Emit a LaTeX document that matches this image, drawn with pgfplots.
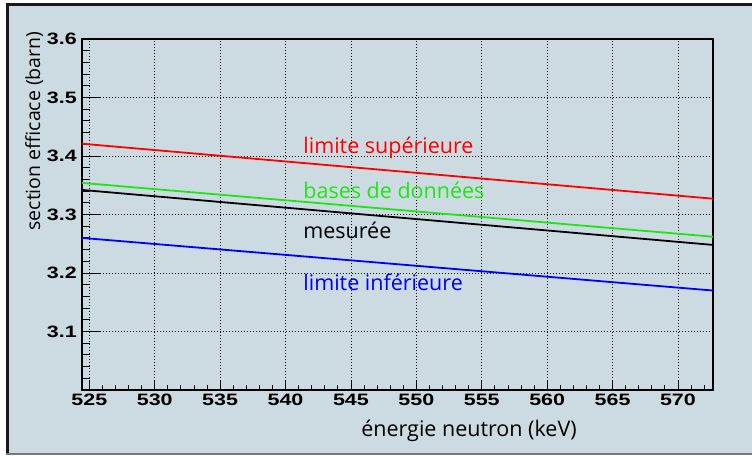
\documentclass[border=0pt]{standalone}
\usepackage{graphicx}
\usepackage{pgfplots}
\pgfplotsset{compat=1.18}
\usepackage{fontspec}
\setmainfont{Open Sans}
\newfontfamily\tickfont{Liberation Sans}
\definecolor{bgc}{RGB}{204,219,226}
\definecolor{frgray}{RGB}{120,120,120}
\definecolor{lgreen}{RGB}{30,230,20}
\begin{document}
\begin{tikzpicture}[x=1pt,y=1pt]
\fill[white] (0,0) rectangle (752,455);
\fill[bgc] (6,0) rectangle (752,452);
\fill[black!90] (6,449) rectangle (752,452);
\fill[black!90] (6,0) rectangle (9,452);
\fill[frgray] (6,0) rectangle (752,2);
\begin{axis}[
  at={(82pt,65pt)}, anchor=south west,
  width=631pt, height=351pt, scale only axis,
  xmin=524.44, xmax=572.68, ymin=3.0, ymax=3.6,
  xtick={525,530,...,570}, ytick={3.1,3.2,3.3,3.4,3.5,3.6},
  minor xtick={526,527,528,529,531,532,533,534,536,537,538,539,541,542,543,544,546,547,548,549,551,552,553,554,556,557,558,559,561,562,563,564,566,567,568,569,571,572},
  minor ytick={3.02,3.04,3.06,3.08,3.12,3.14,3.16,3.18,3.22,3.24,3.26,3.28,3.32,3.34,3.36,3.38,3.42,3.44,3.46,3.48,3.52,3.54,3.56,3.58},
  tick pos=left, tick align=inside,
  xtick style={/pgfplots/major tick length=10pt, /pgfplots/minor tick length=5pt, black, line width=0.8pt},
  ytick style={/pgfplots/major tick length=18pt, /pgfplots/minor tick length=8pt, black, line width=0.8pt},
  grid=major, major grid style={dash pattern=on 1pt off 2pt, black, line width=0.8pt},
  minor grid style={draw=none},
  axis line style={line width=1.2pt},
  /pgf/number format/assume math mode=true,
  ticklabel style={font=\tickfont\bfseries\fontsize{16.5}{16.5}\selectfont, inner sep=0pt},
  xticklabel style={anchor=north, yshift=-4pt},
  yticklabel style={anchor=east, xshift=-5pt},
  xticklabel={\scalebox{1.3}[1]{\pgfmathprintnumber[fixed,precision=0]{\tick}}},
  yticklabel={\scalebox{1.3}[1]{\pgfmathprintnumber[fixed,fixed zerofill,precision=1]{\tick}}},
  clip=true,
]
\addplot[red, line width=1.8pt] coordinates {(524.44,3.421) (572.68,3.327)};
\addplot[lgreen, line width=1.8pt] coordinates {(524.44,3.354) (572.68,3.262)};
\addplot[black, line width=1.8pt] coordinates {(524.44,3.342) (572.68,3.248)};
\addplot[blue, line width=1.8pt] coordinates {(524.44,3.260) (572.68,3.170)};
\node[anchor=base west, text=red, font=\fontsize{21.5}{21.5}\selectfont, inner sep=0pt] at (axis cs:541.35,3.4046) {limite supérieure};
\node[anchor=base west, text=lgreen, font=\fontsize{21.5}{21.5}\selectfont, inner sep=0pt] at (axis cs:541.35,3.3265) {bases de données};
\node[anchor=base west, text=black, font=\fontsize{21.5}{21.5}\selectfont, inner sep=0pt] at (axis cs:541.35,3.2593) {mesurée};
\node[anchor=base west, text=blue, font=\fontsize{21.5}{21.5}\selectfont, inner sep=0pt] at (axis cs:541.35,3.1698) {limite inférieure};
\end{axis}
\node[anchor=base, font=\fontsize{21.5}{21.5}\selectfont, inner sep=0pt] at (469,19) {énergie neutron (keV)};
\node[anchor=base, rotate=90, font=\fontsize{19.5}{19.5}\selectfont, inner sep=0pt] at (40,324) {section efficace (barn)};
\pgfresetboundingbox
\useasboundingbox (0,0) rectangle (752,455);
\end{tikzpicture}
\end{document}
